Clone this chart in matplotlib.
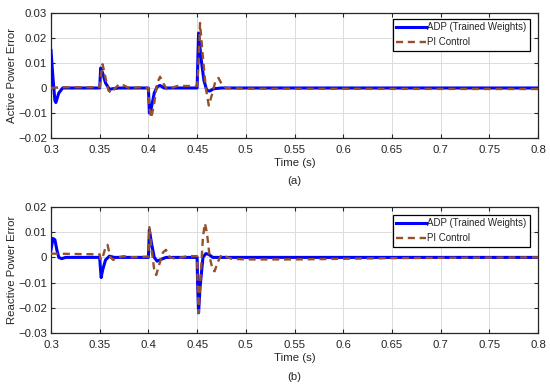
import matplotlib
matplotlib.use("Agg")
import matplotlib.pyplot as plt

# Active power error data
t_p_adp = [0.300, 0.302, 0.304, 0.305, 0.308, 0.312, 0.350, 0.351, 0.353, 0.356, 0.360, 0.365, 0.370,
           0.400, 0.401, 0.403, 0.406, 0.409, 0.412, 0.416, 0.450, 0.4515, 0.454, 0.457, 0.460, 0.463,
           0.467, 0.475, 0.800]
p_adp = [0.015, 0.004, -0.005, -0.0058, -0.002, 0.0, 0.0, 0.008, 0.006, 0.002, -0.0005, -0.0002, 0.0,
         0.0, -0.010, -0.008, -0.002, 0.0005, 0.001, 0.0, 0.0, 0.022, 0.012, 0.003, -0.001, -0.0012,
         -0.0003, 0.0, 0.0]

t_p_pi = [0.300, 0.310, 0.350, 0.351, 0.353, 0.356, 0.359, 0.362, 0.366, 0.370, 0.375, 0.380, 0.390,
          0.400, 0.401, 0.403, 0.406, 0.409, 0.412, 0.415, 0.419, 0.423, 0.430, 0.450, 0.4515, 0.453,
          0.456, 0.459, 0.462, 0.465, 0.469, 0.472, 0.476, 0.480, 0.500, 0.800]
p_pi = [0.0, 0.0003, 0.0003, 0.004, 0.0095, 0.004, -0.001, -0.002, 0.0, 0.0015, 0.001, 0.0, 0.0003,
        0.0, -0.008, -0.012, -0.006, 0.002, 0.0045, 0.002, -0.0005, 0.0, 0.0008, 0.0008, 0.010, 0.026,
        0.012, 0.0, -0.007, -0.003, 0.003, 0.004, 0.001, 0.0, -0.0003, -0.0004]

# Reactive power error data
t_q_adp = [0.300, 0.302, 0.304, 0.306, 0.308, 0.311, 0.315, 0.350, 0.3505, 0.3515, 0.353, 0.356, 0.360,
           0.365, 0.400, 0.4005, 0.401, 0.403, 0.406, 0.409, 0.413, 0.418, 0.450, 0.4505, 0.4515, 0.453,
           0.456, 0.459, 0.462, 0.466, 0.470, 0.800]
q_adp = [0.003, 0.0075, 0.007, 0.003, 0.0, -0.0005, 0.0, 0.0, -0.003, -0.008, -0.005, -0.001, 0.0005,
         0.0, 0.0, 0.005, 0.011, 0.006, 0.0, -0.0015, -0.0008, 0.0, 0.0, -0.010, -0.022, -0.012,
         0.0, 0.0015, 0.0012, 0.0, 0.0, 0.0]

t_q_pi = [0.300, 0.350, 0.351, 0.353, 0.356, 0.358, 0.361, 0.364, 0.368, 0.375, 0.380, 0.400, 0.4005,
          0.401, 0.403, 0.406, 0.408, 0.411, 0.415, 0.418, 0.422, 0.428, 0.440, 0.450, 0.4505, 0.4515,
          0.454, 0.456, 0.458, 0.460, 0.463, 0.466, 0.468, 0.471, 0.475, 0.478, 0.485, 0.500, 0.550,
          0.650, 0.800]
q_pi = [0.0015, 0.0012, -0.001, 0.0, 0.004, 0.005, 0.0, -0.001, 0.0, 0.0005, 0.0, 0.0003, 0.006,
        0.012, 0.004, -0.005, -0.007, -0.003, 0.002, 0.003, 0.0, -0.0005, 0.0005, 0.0005, -0.010, -0.022,
        -0.005, 0.008, 0.0135, 0.010, 0.0, -0.005, -0.0055, -0.002, 0.001, 0.0005, -0.0005, -0.0008,
        -0.0008, -0.0003, 0.0]

xticks = [0.3, 0.35, 0.4, 0.45, 0.5, 0.55, 0.6, 0.65, 0.7, 0.75, 0.8]
xticklabels = ["0.3", "0.35", "0.4", "0.45", "0.5", "0.55", "0.6", "0.65", "0.7", "0.75", "0.8"]
yticks_p = [-0.02, -0.01, 0, 0.01, 0.02, 0.03]
yticklabels_p = ["-0.02", "-0.01", "0", "0.01", "0.02", "0.03"]
yticks_q = [-0.03, -0.02, -0.01, 0, 0.01, 0.02]
yticklabels_q = ["-0.03", "-0.02", "-0.01", "0", "0.01", "0.02"]

plt.rcParams['font.family'] = ['Liberation Sans', 'DejaVu Sans']

FS = 8.2
blue = '#0000ff'
brown = '#93522a'
txt = '#262626'

fig = plt.figure(figsize=(5.5, 3.88), dpi=100)
ax1 = fig.add_axes([51 / 550, 1 - 138 / 388, 487 / 550, 125 / 388])
ax2 = fig.add_axes([51 / 550, 1 - 333 / 388, 487 / 550, 126 / 388])

def style(ax, yt, ytl, ylabel, ylim):
    ax.set_xlim(0.3, 0.8)
    ax.set_ylim(*ylim)
    ax.set_xticks(xticks)
    ax.set_xticklabels(xticklabels)
    ax.set_yticks(yt)
    ax.set_yticklabels([s.replace('-', '\u2212') for s in ytl])
    ax.grid(True, color='#dcdcdc', linewidth=0.7)
    ax.set_axisbelow(True)
    ax.tick_params(direction='in', top=True, right=True, length=3, width=0.8,
                   labelsize=FS, colors=txt)
    ax.tick_params(axis='x', pad=5)
    ax.tick_params(axis='y', pad=3)
    for s in ax.spines.values():
        s.set_color(txt)
        s.set_linewidth(0.9)
    ax.set_ylabel(ylabel, fontsize=FS, color=txt, labelpad=0.5)
    ax.set_xlabel('Time (s)', fontsize=FS, color=txt, labelpad=2)

ax1.plot(t_p_adp, p_adp, color=blue, lw=2.2, label='ADP (Trained Weights)', zorder=3)
ax1.plot(t_p_pi, p_pi, color=brown, lw=1.7, ls=(0, (3, 2)), label='PI Control', zorder=4)
style(ax1, yticks_p, yticklabels_p, 'Active Power Error', (-0.02, 0.03))

ax2.plot(t_q_adp, q_adp, color=blue, lw=2.2, label='ADP (Trained Weights)', zorder=3)
ax2.plot(t_q_pi, q_pi, color=brown, lw=1.7, ls=(0, (3, 2)), label='PI Control', zorder=4)
style(ax2, yticks_q, yticklabels_q, 'Reactive Power Error', (-0.03, 0.02))

for ax, yanc in ((ax1, 1 - 6 / 125), (ax2, 1 - 8 / 126)):
    leg = ax.legend(loc='upper right', bbox_to_anchor=((530 - 51) / 487, yanc), borderaxespad=0,
                    fontsize=7, frameon=True, fancybox=False,
                    edgecolor='#000000', framealpha=1, borderpad=0.35, labelspacing=0.5,
                    handlelength=3.1, handletextpad=0.1)
    leg.get_frame().set_linewidth(0.9)
    for t in leg.get_texts():
        t.set_color(txt)

fig.text(294.5 / 550, 1 - 181 / 388, '(a)', ha='center', va='center', fontsize=FS, color=txt)
fig.text(294.5 / 550, 1 - 377 / 388, '(b)', ha='center', va='center', fontsize=FS, color=txt)

fig.savefig('out.png', dpi=100)
